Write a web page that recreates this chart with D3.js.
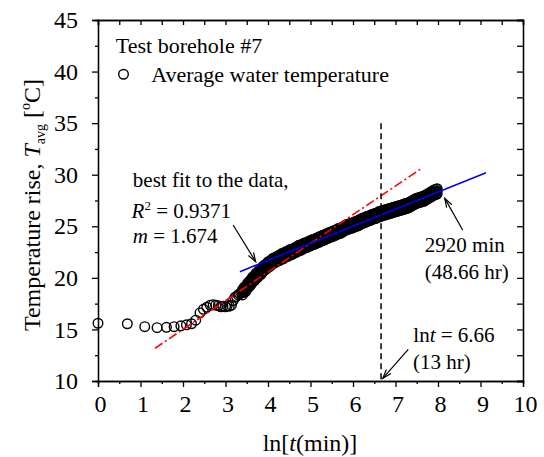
<!DOCTYPE html>
<html>
<head>
<meta charset="utf-8">
<title>Temperature rise - Test borehole #7</title>
<style>
    body { margin: 0; background: #fff; }
    text { font-family: "Liberation Serif", "Times New Roman", serif; fill: #000; }
    .axis path, .axis line { stroke: #000; stroke-width: 1.3; }
    .axis text { font-size: 24px; font-family: "Liberation Serif", "Times New Roman", serif; }
</style>
</head>
<body>
<div id="chart"></div>
<script src="https://d3js.org/d3.v7.min.js"></script>
<script>
// early readings, one circle per point
const earlyLnT = [
    0.00, 0.69, 1.10, 1.39, 1.61, 1.79, 1.95, 2.08, 2.20, 2.30,
    2.40, 2.48, 2.56, 2.64, 2.71, 2.77, 2.83, 2.89, 2.94, 3.00,
    3.04, 3.09, 3.14, 3.18, 3.22, 3.26, 3.30, 3.33, 3.37
];
const earlyTemp = [
    15.6, 15.55, 15.27, 15.17, 15.2, 15.27, 15.35, 15.45, 15.55, 15.9,
    16.6, 16.95, 17.15, 17.35, 17.4, 17.35, 17.3, 17.2, 17.25, 17.2,
    17.3, 17.25, 17.35, 17.8, 18.1, 18.2, 18.35, 18.45, 18.55
];

// dense part: points spread between an upper edge, a middle and a lower edge
const denseLnT = [
    3.40, 3.44, 3.48, 3.52, 3.56, 3.60, 3.64, 3.68, 3.72, 3.76,
    3.80, 3.84, 3.88, 3.92, 3.96, 4.00, 4.04, 4.08, 4.12, 4.16,
    4.20, 4.24, 4.28, 4.32, 4.36, 4.40, 4.44, 4.48, 4.52, 4.56,
    4.60, 4.64, 4.68, 4.72, 4.76, 4.80, 4.84, 4.88, 4.92, 4.96,
    5.00, 5.04, 5.08, 5.12, 5.16, 5.20, 5.24, 5.28, 5.32, 5.36,
    5.40, 5.44, 5.48, 5.52, 5.56, 5.60, 5.64, 5.68, 5.72, 5.76,
    5.80, 5.84, 5.88, 5.92, 5.96, 6.00, 6.04, 6.08, 6.12, 6.16,
    6.20, 6.24, 6.28, 6.32, 6.36, 6.40, 6.44, 6.48, 6.52, 6.56,
    6.60, 6.64, 6.68, 6.72, 6.76, 6.80, 6.84, 6.88, 6.92, 6.96,
    7.00, 7.04, 7.08, 7.12, 7.16, 7.20, 7.24, 7.28, 7.32, 7.36,
    7.40, 7.44, 7.48, 7.52, 7.56, 7.60, 7.64, 7.68, 7.72, 7.76,
    7.80, 7.84, 7.88, 7.92, 7.96, 7.98
];
const denseHigh = [
    18.85, 19.1, 19.2, 19.5, 19.65, 19.85, 20.1, 20.2, 20.45, 20.55,
    20.8, 20.85, 21.1, 21.25, 21.35, 21.55, 21.6, 21.75, 21.9, 21.95,
    22.05, 22.15, 22.2, 22.35, 22.35, 22.5, 22.55, 22.6, 22.75, 22.75,
    22.85, 22.95, 23.0, 23.15, 23.15, 23.25, 23.35, 23.4, 23.45, 23.55,
    23.6, 23.7, 23.75, 23.8, 23.9, 23.95, 24.05, 24.1, 24.15, 24.25,
    24.3, 24.4, 24.45, 24.5, 24.6, 24.65, 24.75, 24.8, 24.85, 24.95,
    25.05, 25.15, 25.2, 25.25, 25.3, 25.35, 25.45, 25.5, 25.55, 25.65,
    25.75, 25.8, 25.85, 25.95, 26.0, 26.05, 26.15, 26.2, 26.25, 26.3,
    26.4, 26.45, 26.5, 26.55, 26.6, 26.65, 26.7, 26.75, 26.8, 26.85,
    26.9, 26.95, 27.0, 27.05, 27.1, 27.15, 27.2, 27.25, 27.3, 27.4,
    27.5, 27.6, 27.7, 27.75, 27.8, 27.85, 27.9, 27.95, 28.05, 28.15,
    28.25, 28.35, 28.45, 28.55, 28.6, 28.65
];
const denseMid = [
    18.6, 18.85, 18.95, 19.25, 19.4, 19.6, 19.85, 19.95, 20.2, 20.3,
    20.55, 20.6, 20.85, 21.0, 21.1, 21.3, 21.35, 21.5, 21.65, 21.7,
    21.8, 21.9, 21.95, 22.1, 22.1, 22.25, 22.3, 22.35, 22.5, 22.5,
    22.6, 22.7, 22.75, 22.9, 22.9, 23.0, 23.1, 23.15, 23.2, 23.3,
    23.35, 23.45, 23.5, 23.55, 23.65, 23.7, 23.8, 23.85, 23.9, 24.0,
    24.05, 24.15, 24.2, 24.25, 24.35, 24.4, 24.5, 24.55, 24.6, 24.7,
    24.8, 24.9, 24.95, 25.0, 25.05, 25.1, 25.2, 25.25, 25.3, 25.4,
    25.5, 25.55, 25.6, 25.7, 25.75, 25.8, 25.9, 25.95, 26.0, 26.05,
    26.15, 26.2, 26.25, 26.3, 26.35, 26.4, 26.45, 26.5, 26.55, 26.6,
    26.65, 26.7, 26.75, 26.8, 26.85, 26.9, 26.95, 27.0, 27.05, 27.15,
    27.25, 27.35, 27.45, 27.5, 27.55, 27.6, 27.65, 27.7, 27.8, 27.9,
    28.0, 28.1, 28.2, 28.3, 28.35, 28.4
];
const denseLow = [
    18.35, 18.6, 18.7, 19.0, 19.15, 19.35, 19.6, 19.7, 19.95, 20.05,
    20.3, 20.35, 20.6, 20.75, 20.85, 21.05, 21.1, 21.25, 21.4, 21.45,
    21.55, 21.65, 21.7, 21.85, 21.85, 22.0, 22.05, 22.1, 22.25, 22.25,
    22.35, 22.45, 22.5, 22.65, 22.65, 22.75, 22.85, 22.9, 22.95, 23.05,
    23.1, 23.2, 23.25, 23.3, 23.4, 23.45, 23.55, 23.6, 23.65, 23.75,
    23.8, 23.9, 23.95, 24.0, 24.1, 24.15, 24.25, 24.3, 24.35, 24.45,
    24.55, 24.65, 24.7, 24.75, 24.8, 24.85, 24.95, 25.0, 25.05, 25.15,
    25.25, 25.3, 25.35, 25.45, 25.5, 25.55, 25.65, 25.7, 25.75, 25.8,
    25.9, 25.95, 26.0, 26.05, 26.1, 26.15, 26.2, 26.25, 26.3, 26.35,
    26.4, 26.45, 26.5, 26.55, 26.6, 26.65, 26.7, 26.75, 26.8, 26.9,
    27.0, 27.1, 27.2, 27.25, 27.3, 27.35, 27.4, 27.45, 27.55, 27.65,
    27.75, 27.85, 27.95, 28.05, 28.1, 28.15
];

// fitted lines (end points)
const bestFitX = [3.34, 9.13];
const bestFitY = [20.6, 30.2];
const earlyFitX = [1.34, 7.62];
const earlyFitY = [13.17, 30.63];
const markerLnT = 6.66;
const markerY = [35, 10];

const xMajor = [0, 1, 2, 3, 4, 5, 6, 7, 8, 9, 10];
const xMinor = [0.5, 1.5, 2.5, 3.5, 4.5, 5.5, 6.5, 7.5, 8.5, 9.5];
const yMajor = [10, 15, 20, 25, 30, 35, 40, 45];
const yMinor = [12.5, 17.5, 22.5, 27.5, 32.5, 37.5, 42.5];

const width = 544, height = 457;
const x = d3.scaleLinear().domain([0, 10]).range([98, 523]);
const y = d3.scaleLinear().domain([10, 45]).range([381, 20]);

const svg = d3.select("#chart").append("svg")
    .attr("width", width)
    .attr("height", height);

// arrow head
svg.append("defs").append("marker")
    .attr("id", "arrow")
    .attr("viewBox", "-10 -5 12 10")
    .attr("refX", 0).attr("refY", 0)
    .attr("markerWidth", 12).attr("markerHeight", 10)
    .attr("markerUnits", "userSpaceOnUse")
    .attr("orient", "auto")
    .append("path")
    .attr("d", "M-9,-3L0,0L-9,3")
    .attr("fill", "none")
    .attr("stroke", "#000")
    .attr("stroke-width", 1.2);

// axes
function drawAxis(axis, tr, vals, size, labels) {
    return svg.append("g")
        .attr("class", "axis")
        .attr("transform", tr)
        .call(axis.tickValues(vals).tickSize(size).tickPadding(labels ? 8 : 0)
            .tickFormat(labels ? d3.format("d") : () => ""));
}
drawAxis(d3.axisBottom(x), "translate(0,381)", xMajor, 6, true)
    .selectAll("text").attr("dx", 2);
drawAxis(d3.axisBottom(x), "translate(0,381)", xMinor, 3, false);
drawAxis(d3.axisLeft(y), "translate(98,0)", yMajor, 6, true)
    .selectAll("text").attr("x", -20);
drawAxis(d3.axisLeft(y), "translate(98,0)", yMinor, 3, false);
drawAxis(d3.axisTop(x), "translate(0,20)", xMajor, -5, false);
drawAxis(d3.axisTop(x), "translate(0,20)", xMinor, -5, false);
drawAxis(d3.axisRight(y), "translate(523,0)", yMajor, -6, false);
drawAxis(d3.axisRight(y), "translate(523,0)", yMinor, -6, false);
svg.selectAll(".axis .domain").attr("fill", "none");

// data points
const points = earlyLnT.map((v, i) => ({ x: v, y: earlyTemp[i] }))
    .concat(denseLnT.map((v, i) => ({ x: v, y: denseLow[i] })))
    .concat(denseLnT.map((v, i) => ({ x: v, y: denseMid[i] })))
    .concat(denseLnT.map((v, i) => ({ x: v, y: denseHigh[i] })));
svg.append("g")
    .selectAll("circle")
    .data(points)
    .enter()
    .append("circle")
    .attr("cx", d => x(d.x))
    .attr("cy", d => y(d.y))
    .attr("r", 4.8)
    .attr("fill", "none")
    .attr("stroke", "#000")
    .attr("stroke-width", 1.4);

// fitted lines
const line = d3.line().x(d => x(d[0])).y(d => y(d[1]));
svg.append("path")
    .datum(earlyFitX.map((v, i) => [v, earlyFitY[i]]))
    .attr("d", line)
    .attr("fill", "none")
    .attr("stroke", "#ff0000")
    .attr("stroke-width", 1.6)
    .attr("stroke-dasharray", "9,3,2,3");

svg.append("path")
    .datum(bestFitX.map((v, i) => [v, bestFitY[i]]))
    .attr("d", line)
    .attr("fill", "none")
    .attr("stroke", "#0000ff")
    .attr("stroke-width", 1.6);

// ln t = 6.66 marker
svg.append("path")
    .datum(markerY.map(v => [markerLnT, v]))
    .attr("d", line)
    .attr("fill", "none")
    .attr("stroke", "#000")
    .attr("stroke-width", 1.5)
    .attr("stroke-dasharray", "6,4");

// arrows
const arrows = [
    [[3.18, 25.12], [3.71, 21.57]],
    [[8.58, 24.64], [8.16, 27.71]],
    [[7.30, 13.07], [6.70, 10.26]]
];
arrows.forEach(a => {
    svg.append("path")
        .datum(a)
        .attr("d", line)
        .attr("fill", "none")
        .attr("stroke", "#000")
        .attr("stroke-width", 1.2)
        .attr("marker-end", "url(#arrow)");
});

// text helper
function label(px, py, size, parts) {
    const t = svg.append("text")
        .attr("x", x(px))
        .attr("y", y(py))
        .style("font-size", size + "px");
    parts.forEach(p => {
        const s = t.append("tspan").text(p.t);
        if (p.i) s.style("font-style", "italic");
        if (p.fs) s.style("font-size", p.fs + "px");
        if (p.dy) s.attr("dy", p.dy);
    });
    return t;
}

// legend
label(0.42, 41.83, 22, [{ t: "Test borehole #7" }]);
svg.append("circle")
    .attr("cx", x(0.6)).attr("cy", y(39.74)).attr("r", 4.8)
    .attr("fill", "none").attr("stroke", "#000").attr("stroke-width", 1.4);
label(1.25, 39.02, 22, [{ t: "Average water temperature" }]);

// fit annotation
label(0.82, 28.84, 21, [{ t: "best fit to the data," }]);
label(0.79, 25.77, 21, [
    { t: "R", i: true }, { t: "2", fs: 13, dy: -8 }, { t: " = 0.9371", dy: 8 }
]);
label(0.82, 23.35, 21, [{ t: "m", i: true }, { t: " = 1.674" }]);

label(7.69, 22.48, 21, [{ t: "2920 min" }]);
label(7.69, 19.86, 21, [{ t: "(48.66 hr)" }]);
label(7.42, 13.81, 21, [{ t: "ln" }, { t: "t", i: true }, { t: " = 6.66" }]);
label(7.41, 11.13, 21, [{ t: "(13 hr)" }]);

// axis titles
const xt = svg.append("text")
    .attr("x", 310).attr("y", 451)
    .attr("text-anchor", "middle")
    .style("font-size", "24px");
xt.append("tspan").text("ln[");
xt.append("tspan").text("t").style("font-style", "italic");
xt.append("tspan").text("(min)]");

const yt = svg.append("text")
    .attr("transform", "translate(40,205) rotate(-90)")
    .attr("text-anchor", "middle")
    .style("font-size", "24px");
yt.append("tspan").text("Temperature rise, ");
yt.append("tspan").text("T").style("font-style", "italic");
yt.append("tspan").text("avg").style("font-size", "14px").attr("dy", 5);
yt.append("tspan").text(" [").attr("dy", -5);
yt.append("tspan").text("o").style("font-size", "14px").attr("dy", -10);
yt.append("tspan").text("C]").attr("dy", 10);
</script>
</body>
</html>
